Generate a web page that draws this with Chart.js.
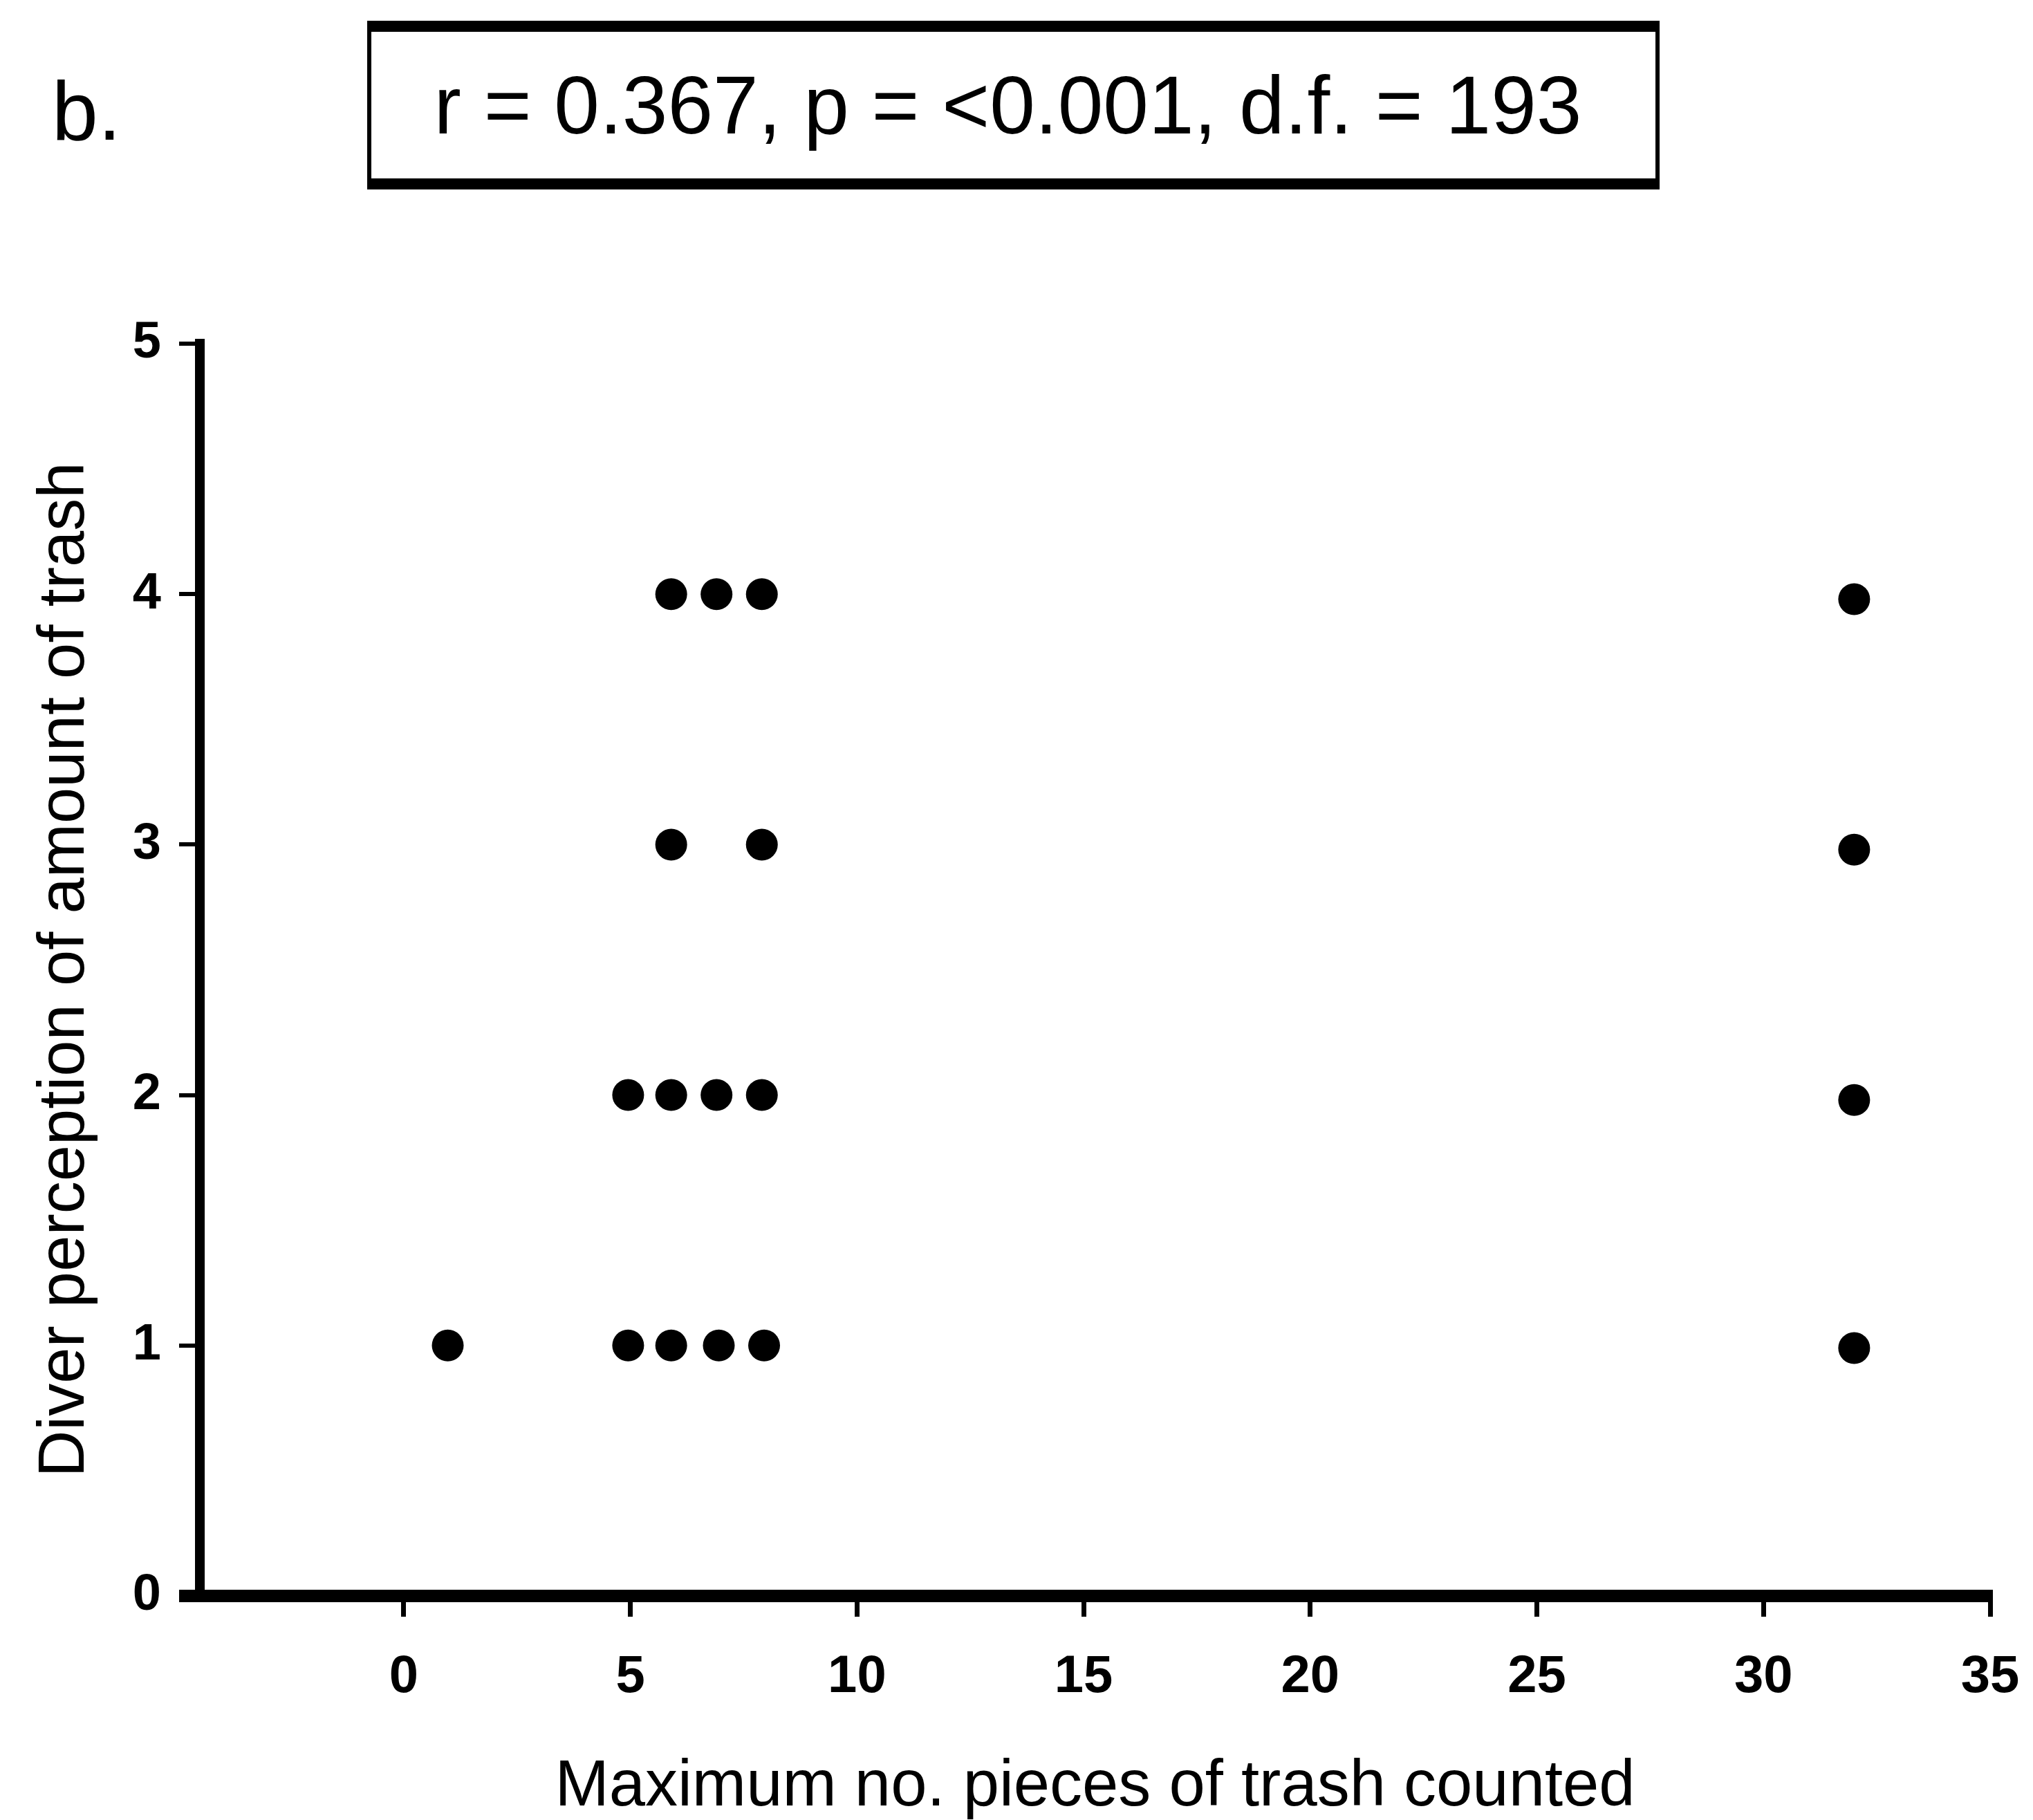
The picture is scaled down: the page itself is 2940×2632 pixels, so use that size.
<!DOCTYPE html>
<html>
<head>
<meta charset="utf-8">
<script src="https://cdn.jsdelivr.net/npm/chart.js@4.4.1/dist/chart.umd.min.js"></script>
<style>
  body { margin: 0; background: #fff; }
  #wrap { position: relative; width: 2940px; height: 2632px; background: #fff; }
  #chart { position: absolute; left: 0; top: 0; }
  .panel {
    position: absolute; left: 75px; top: 100px;
    font-family: "Liberation Sans", Arial, sans-serif; font-size: 120px; line-height: 1; color: #000;
  }
  .statbox {
    position: absolute; left: 531px; top: 30px; width: 1869px; height: 244px;
    box-sizing: border-box;
    border-style: solid; border-color: #000;
    border-width: 16px 6px 16px 6px;
    padding-right: 16px;
    display: flex; align-items: center; justify-content: center;
    font-family: "Liberation Sans", Arial, sans-serif; font-size: 118px; color: #000;
  }
</style>
</head>
<body>
<div id="wrap">
  <canvas id="chart" width="2940" height="2632"></canvas>
  <div class="panel">b.</div>
  <div class="statbox">r = 0.367, p = &lt;0.001, d.f. = 193</div>
</div>
<script>
// values
const trash_counted = [5.9, 6.9, 7.9, 5.9, 7.9, 4.95, 5.9, 6.9, 7.9, 0.97, 4.95, 5.9, 6.95, 7.95, 32, 32, 32, 32];
const diver_perception = [4, 4, 4, 3, 3, 2, 2, 2, 2, 1, 1, 1, 1, 1, 3.98, 2.98, 1.98, 0.99];
const x_ticks = [0, 5, 10, 15, 20, 25, 30, 35];
const y_ticks = [0, 1, 2, 3, 4, 5];
const x_title = 'Maximum no. pieces of trash counted';
const y_title = 'Diver perception of amount of trash';

function scatter_chart() {
    const points = trash_counted.map((x, i) => ({x: x, y: diver_perception[i]}));

    const config = {
        type: 'scatter',
        data: {
            datasets: [{
                data: points,
                backgroundColor: '#000',
                borderWidth: 0,
                pointRadius: 23,
                pointHoverRadius: 23
            }]
        },
        options: {
            responsive: false,
            animation: false,
            devicePixelRatio: 1,
            layout: {
                padding: {left: 20, right: 62, top: 497, bottom: 0}
            },
            plugins: {
                legend: {display: false},
                tooltip: {enabled: false}
            },
            scales: {
                x: {
                    type: 'linear',
                    min: -4.5,
                    max: 35,
                    afterBuildTicks: s => { s.ticks = x_ticks.map(v => ({value: v})); },
                    afterFit: s => {
                        s.height = 324;
                        // tick padding would otherwise be added to the right margin
                        s.paddingLeft = 0;
                        s.paddingRight = 0;
                    },
                    border: {display: true, width: 18, color: '#000'},
                    grid: {drawOnChartArea: false, drawTicks: true, tickLength: 30, lineWidth: 7, color: '#000'},
                    ticks: {
                        color: '#000',
                        padding: 42,
                        maxRotation: 0,
                        font: {family: 'Liberation Sans', size: 76, weight: 'bold'}
                    },
                    title: {
                        display: true,
                        text: x_title,
                        color: '#000',
                        padding: {top: 0, bottom: 0},
                        font: {family: 'Liberation Sans', size: 94, lineHeight: 1}
                    }
                },
                y: {
                    type: 'linear',
                    min: 0,
                    max: 5,
                    afterBuildTicks: s => { s.ticks = y_ticks.map(v => ({value: v})); },
                    afterFit: s => { s.width = 269; },
                    border: {display: true, width: 14, color: '#000'},
                    grid: {
                        drawOnChartArea: false,
                        drawTicks: true,
                        tickLength: 30,
                        // the 0 tick runs into the x axis, so draw it as thick
                        lineWidth: c => (c.tick && c.tick.value === 0) ? 18 : 6,
                        color: '#000'
                    },
                    ticks: {
                        color: '#000',
                        padding: 26,
                        font: {family: 'Liberation Sans', size: 74, weight: 'bold'}
                    },
                    title: {
                        display: true,
                        text: y_title,
                        color: '#000',
                        padding: {top: 19, bottom: 0},
                        font: {family: 'Liberation Sans', size: 94}
                    }
                }
            }
        }
    };

    const ctx = document.getElementById('chart').getContext('2d');
    new Chart(ctx, config);
}

window.onload = function () {
    scatter_chart();
};
</script>
</body>
</html>
